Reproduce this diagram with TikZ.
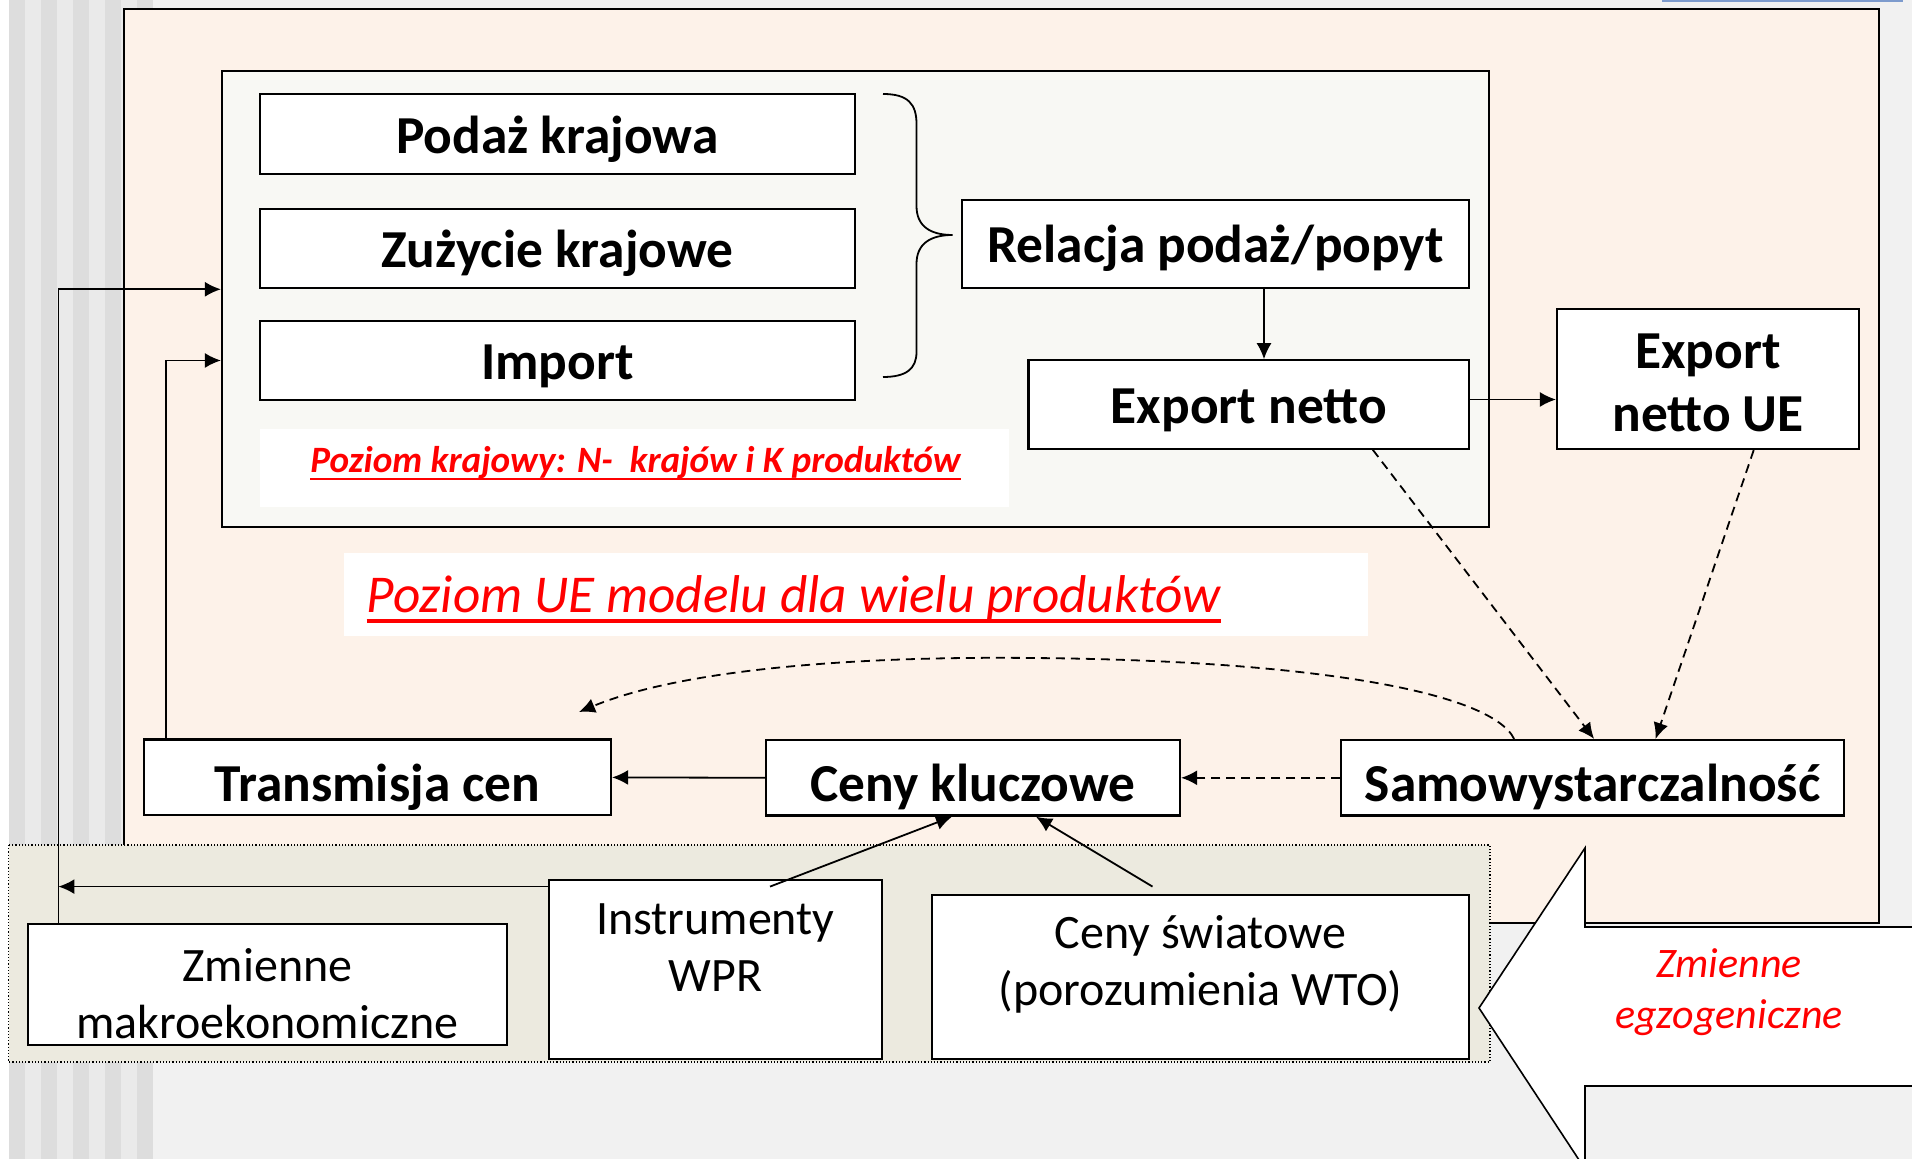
\documentclass[tikz,border=0pt]{standalone}
\usepackage{fontspec}
\setmainfont{Carlito}
\usetikzlibrary{calc,arrows.meta}

\definecolor{salmon}{RGB}{253,242,233}
\definecolor{bandgrey}{RGB}{236,234,223}
\definecolor{slidegrey}{RGB}{241,241,241}
\definecolor{stripedark}{RGB}{221,221,221}
\definecolor{stripelight}{RGB}{234,234,234}
\definecolor{innerfill}{RGB}{248,248,244}
\definecolor{linkblue}{RGB}{125,155,205}

\newcommand{\boldtext}{\fontsize{26.7}{31.5}\selectfont\bfseries}
\newcommand{\plaintext}{\fontsize{24}{28.5}\selectfont}

\tikzset{
  dims/.style 2 args={minimum width=#1*0.5pt, minimum height=#2*0.5pt},
  bbox/.style={draw, fill=white, line width=1.1pt, inner sep=0pt, font=\boldtext, text height=19pt, text depth=0pt},
  mbox/.style={draw, fill=white, line width=1.1pt, inner sep=0pt},
  rbox/.style={draw, fill=white, line width=1pt, inner sep=0pt},
  toptext/.style={align=center, anchor=north, inner sep=#1},
  arr/.style={-{Latex[length=8pt,width=7.5pt]}, line width=0.9pt},
  dsh/.style={dash pattern=on 4.5pt off 3pt},
}

\begin{document}
\begin{tikzpicture}[x=0.5pt,y=-0.5pt]
\useasboundingbox (0,0) rectangle (1912,1159);

% slide background
\fill[slidegrey] (0,0) rectangle (1912,1159);
\fill[white] (0,0) rectangle (8.6,1159);
\fill[stripelight] (8.6,0) rectangle (152,1159);
\foreach \i in {0,...,4}
  \fill[stripedark] ({8.6+32*\i},0) rectangle ++(16,1159);
\fill[linkblue] (1662,0) rectangle (1903,2);

% EU level
\draw[line width=1pt, fill=salmon] (124,9) rectangle (1879,923);
\node[draw, line width=0.8pt, fill=innerfill, dims={1267}{456}] (inner) at (855.2,299) {};

% country level
\node[bbox, dims={595}{79.6}] (pod) at (557.3,134.1) {Podaż krajowa};
\node[bbox, dims={595}{78.8}] (zuz) at (557.3,248.8) {Zużycie krajowe};
\node[bbox, dims={595}{79}] (imp) at (557.3,360.5) {Import};
\draw[line width=0.9pt] (883,94) .. controls (908,94) and (916.5,104) .. (916.5,124)
  -- (916.5,206) .. controls (916.5,226) and (930,235) .. (952.6,235)
  .. controls (930,235) and (916.5,244) .. (916.5,264)
  -- (916.5,352) .. controls (916.5,369) and (906,377) .. (883,377);
\node[bbox, dims={507}{88}] (rel) at (1215.6,243.8) {Relacja podaż/popyt};
\node[bbox, dims={440.5}{88.4}] (exp) at (1248.8,404.5) {Export netto};
\node[mbox, dims={302}{140}, label={[toptext=12.6pt, font=\boldtext]north:Export\\netto UE}] (ue) at (1708,379) {};

\fill[white] (260,429) rectangle (1009,507);
\node[anchor=base west, inner sep=0pt, text=red, font=\fontsize{18.6}{22}\selectfont\bfseries\itshape] (krlab) at (310,473) {Poziom krajowy: N-\ \ krajów i K produktów};
\draw[red, line width=0.9pt] ($(krlab.base west)+(0,6)$) -- ($(krlab.base east)+(0,6)$);

\fill[white] (344,553) rectangle (1368,636);
\node[anchor=base west, inner sep=0pt, text=red, font=\fontsize{26.6}{30}\selectfont\itshape] (uelab) at (366.5,612.7) {Poziom UE modelu dla wielu produktów};
\draw[red, line width=1.6pt] ($(uelab.base west)+(0,8.3)$) -- ($(uelab.base east)+(0,8.3)$);

\node[bbox, text height=24pt, dims={467}{75.7}] (trans) at (377.5,777.4) {Transmisja cen};
\node[bbox, text height=24pt, dims={414}{75.6}] (ceny) at (973,777.8) {Ceny kluczowe};
\node[bbox, text height=24pt, dims={502.5}{75.6}] (samo) at (1592.6,777.8) {Samowystarczalność};

% exogenous variables
\draw[densely dotted, line width=0.6pt, fill=bandgrey] (8.6,845) rectangle (1490,1062);
\node[rbox, dims={479}{121}, label={[toptext=12.6pt, font=\plaintext]north:Zmienne\\makroekonomiczne}] (makro) at (267.5,984.5) {};
\node[rbox, dims={332.6}{179}, label={[toptext=12.2pt, font=\plaintext]north:Instrumenty\\WPR}] (instr) at (715.3,969.5) {};
\node[rbox, dims={537}{164}, label={[toptext=10.5pt, font=\plaintext]north:Ceny światowe\\(porozumienia WTO)}] (swiat) at (1200.5,977) {};

% connectors
\coordinate (vm) at ($(makro.north west)+(31.4,0)$);
\coordinate (vt) at ($(trans.north west)+(23,0)$);
\coordinate (rx) at (1264,0);
\coordinate (tc) at (579,712);
\coordinate (il) at ($(instr.north west)+(0,7.6)$);
\draw[arr] (vm) |- (inner.west |- zuz.south);
\draw[arr] (vt) |- (inner.west |- imp.west);
\draw[arr] (rel.south -| rx) -- (exp.north -| rx);
\draw[arr] ($(exp.east)+(0,-5)$) -- ($(exp.east -| ue.west)+(0,-5)$);
\draw[arr, dsh] ($(exp.south)+(124,0)$) -- ($(samo.north)+(1.5,0)$);
\draw[arr, dsh] ($(ue.south)+(45.7,0)$) -- ($(samo.north)+(63,0)$);
\draw[arr, dsh] ($(samo.north)+(-78.5,0)$) .. controls (1490,690) and (1300,660) .. (1031,658)
  .. controls (850,656) and (680,670) .. (tc);
\draw[arr, dsh] (samo.west) -- (ceny.east);
\draw[arr] (ceny.west) -- (trans.east);
\draw[arr] ($(instr.north)+(54.7,7.6)$) -- ($(ceny.south)+(-21,0)$);
\draw[arr] ($(swiat.north)+(-48,-7.4)$) -- ($(ceny.south)+(63,0)$);
\draw[arr] (il) -- (il -| vm);

% big arrow
\draw[line width=0.8pt, fill=white] (1479,1008) -- (1585,848) -- (1585,927) -- (1920,927)
  -- (1920,1086) -- (1585,1086) -- (1585,1169) -- cycle;
\node[text=red, align=center, font=\fontsize{21}{25.8}\selectfont\itshape] (exo) at (1729,992) {Zmienne\\egzogeniczne};
\end{tikzpicture}
\end{document}
